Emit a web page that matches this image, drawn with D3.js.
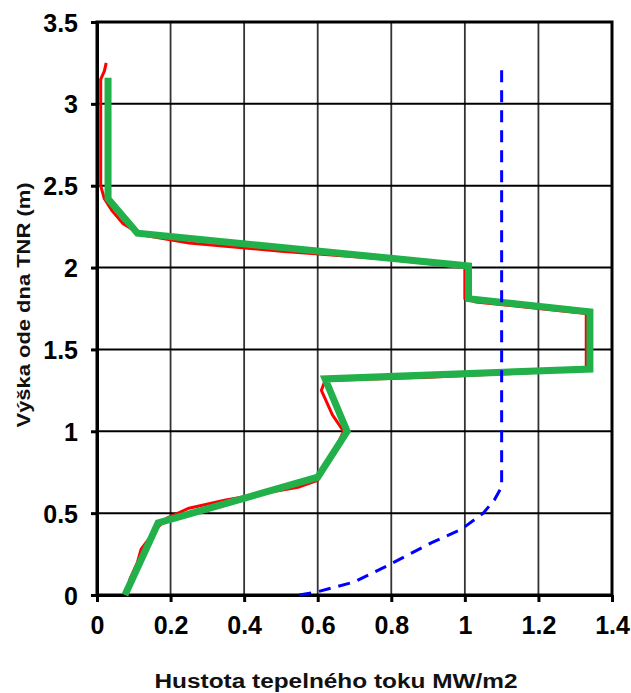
<!DOCTYPE html>
<html>
<head>
<meta charset="utf-8">
<script src="https://cdn.jsdelivr.net/npm/d3@7"></script>
<style>
  body { margin: 0; background: #fff; }
  svg { display: block; }
  .tick-label { font-family: "Liberation Sans", Arial, sans-serif; font-weight: bold; font-size: 25px; fill: #000; }
  .axis-title { font-family: "Liberation Sans", Arial, sans-serif; font-weight: bold; fill: #111; }
</style>
</head>
<body>
<svg id="chart" width="631" height="693"></svg>
<script>
const xTicks = [0, 0.2, 0.4, 0.6, 0.8, 1, 1.2, 1.4];
const yTicks = [0, 0.5, 1, 1.5, 2, 2.5, 3, 3.5];
const xTitle = "Hustota tepelného toku MW/m2";
const yTitle = "Výška ode dna TNR (m)";

// measured profile (red), [flux, height]
const measured = [
  [0.08, 0], [0.09, 0.1], [0.11, 0.2], [0.12, 0.28], [0.14, 0.34], [0.16, 0.4],
  [0.19, 0.47], [0.25, 0.53], [0.35, 0.58], [0.45, 0.62], [0.55, 0.66], [0.6, 0.7],
  [0.61, 0.75], [0.64, 0.85], [0.67, 1.0], [0.64, 1.1], [0.61, 1.25], [0.62, 1.31],
  [0.9, 1.33], [1.2, 1.36], [1.33, 1.38], [1.33, 1.72], [1.2, 1.75], [1.03, 1.79],
  [1.0, 1.81], [1.0, 2.0], [0.8, 2.05], [0.5, 2.1], [0.25, 2.15], [0.12, 2.2],
  [0.07, 2.27], [0.04, 2.35], [0.02, 2.42], [0.01, 2.5], [0.01, 3.0], [0.01, 3.15],
  [0.02, 3.2], [0.025, 3.25]
];

// simplified profile (green)
const simplified = [
  [0.076, 0], [0.166, 0.44], [0.6, 0.72], [0.68, 1.0], [0.62, 1.32], [1.34, 1.38],
  [1.34, 1.73], [1.01, 1.81], [1.01, 2.01], [0.11, 2.21], [0.03, 2.42], [0.03, 3.16]
];

// limit curve (blue dashed)
const limit = [
  [0.55, 0], [0.6, 0.02], [0.7, 0.08], [0.79, 0.18], [0.91, 0.32], [0.99, 0.4],
  [1.05, 0.5], [1.08, 0.58], [1.1, 0.66], [1.1, 1.0], [1.1, 2.0], [1.1, 3.25]
];

const svg = d3.select("#chart");
const x = d3.scaleLinear().domain([0, 1.4]).range([97, 612]);
const y = d3.scaleLinear().domain([0, 3.5]).range([595, 22]);

// grid
svg.append("g")
  .selectAll("line")
  .data(xTicks.slice(1, -1))
  .join("line")
  .attr("x1", (d) => x(d)).attr("x2", (d) => x(d))
  .attr("y1", y(3.5)).attr("y2", y(0))
  .attr("stroke", "#333").attr("stroke-width", 1.8);

svg.append("g")
  .selectAll("line")
  .data(yTicks.slice(1, -1))
  .join("line")
  .attr("x1", x(0)).attr("x2", x(1.4))
  .attr("y1", (d) => y(d)).attr("y2", (d) => y(d))
  .attr("stroke", "#000").attr("stroke-width", 2);

// frame
svg.append("rect")
  .attr("x", x(0)).attr("y", y(3.5))
  .attr("width", x(1.4) - x(0)).attr("height", y(0) - y(3.5))
  .attr("fill", "none").attr("stroke", "#000").attr("stroke-width", 3);

// axes
const xAxis = d3.axisBottom(x).tickValues(xTicks).tickSize(7).tickSizeOuter(0).tickPadding(14)
  .tickFormat(d3.format("~g"));
const yAxis = d3.axisLeft(y).tickValues(yTicks).tickSize(6).tickSizeOuter(0).tickPadding(13)
  .tickFormat(d3.format("~g"));

const gx = svg.append("g").attr("transform", `translate(0,${y(0)})`).call(xAxis);
const gy = svg.append("g").attr("transform", `translate(${x(0)},0)`).call(yAxis);

[gx, gy].forEach((g) => {
  g.select(".domain").attr("stroke", "#000").attr("stroke-width", 3);
  g.selectAll(".tick line").attr("stroke", "#000").attr("stroke-width", 3);
  g.selectAll(".tick text").attr("class", "tick-label").attr("fill", "#000");
});
gy.selectAll(".tick text").attr("dy", "0.36em");

const line = d3.line().x((d) => x(d[0])).y((d) => y(d[1]));

svg.append("path")
  .datum(measured)
  .attr("d", line)
  .attr("fill", "none")
  .attr("stroke", "#ff0000")
  .attr("stroke-width", 3)
  .attr("stroke-linejoin", "round");

svg.append("path")
  .datum(simplified)
  .attr("d", line)
  .attr("fill", "none")
  .attr("stroke", "#22b04b")
  .attr("stroke-width", 7)
  .attr("stroke-linejoin", "miter");

svg.append("path")
  .datum(limit)
  .attr("d", line)
  .attr("fill", "none")
  .attr("stroke", "#0000ff")
  .attr("stroke-width", 3)
  .attr("stroke-dasharray", "12,8");

// titles
svg.append("text")
  .attr("class", "axis-title")
  .attr("x", 336).attr("y", 688)
  .attr("text-anchor", "middle")
  .attr("font-size", 20)
  .attr("textLength", 363)
  .attr("lengthAdjust", "spacingAndGlyphs")
  .text(xTitle);

svg.append("text")
  .attr("class", "axis-title")
  .attr("transform", "translate(30,305) rotate(-90)")
  .attr("text-anchor", "middle")
  .attr("font-size", 19)
  .attr("textLength", 245)
  .attr("lengthAdjust", "spacingAndGlyphs")
  .text(yTitle);
</script>
</body>
</html>
